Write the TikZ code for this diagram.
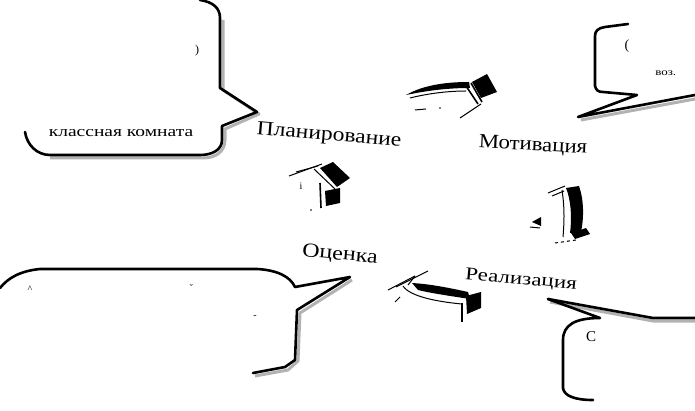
\documentclass[tikz,border=0pt]{standalone}
\usepackage{fontspec}
\setmainfont{Liberation Serif}
\begin{document}
\begin{tikzpicture}[x=1pt,y=-1pt,
  bubble/.style={line width=2.6pt,line join=round,line cap=round},
  shade/.style={line width=3pt,draw=gray!60,line join=round},
  lab/.style={font=\fontsize{20}{22}\selectfont,inner sep=0pt},
  small/.style={font=\fontsize{10}{11}\selectfont,inner sep=0pt},
  thinln/.style={line width=1pt},
  midln/.style={line width=1.6pt}]
\useasboundingbox (0,0) rectangle (695,411);
% ---------- callout 1 (top left) ----------
\draw[shade] (223,20) -- (223,90) -- (259,114) -- (225,129) -- (225,140)
  .. controls (225,152) and (215,158) .. (203,158) -- (50,158);
\draw[bubble] (200,0) .. controls (213,2) and (220,8) .. (220,18) -- (220,88)
  -- (257,112) -- (222,126) -- (222,140)
  .. controls (222,150) and (212,155) .. (200,155) -- (50,155)
  .. controls (37,155) and (27,145) .. (25,132);
\begin{scope}
  \clip (30,128.5) rectangle (215,145);
  \node[small,font=\fontsize{15}{16}\selectfont,xscale=1.3,anchor=base] (t1) at (121,137) {классная комната};
\end{scope}
\node[small,font=\fontsize{12}{13}\selectfont] (p1) at (197,51) {)};
% ---------- callout 2 (top right) ----------
\draw[shade] (581,120) -- (695,99);
\draw[bubble] (628,24) -- (605,27) .. controls (598,28) and (595,31) .. (595,36)
  -- (595,86) .. controls (596,90) and (598,92) .. (603,92) -- (637,95)
  -- (578,117) -- (695,95);
\node[small,font=\fontsize{14}{15}\selectfont] (p2) at (627,46) {(};
\node[small,xscale=1.3,anchor=west] (t2) at (655,73) {воз.};
% ---------- callout 3 (bottom left) ----------
\draw[shade] (352,280) -- (300,313) -- (298,361) -- (288,370) -- (255,376);
\draw[bubble] (0,288) .. controls (8,278) and (20,271) .. (40,269) -- (257,269)
  .. controls (276,270) and (290,276) .. (295,287) -- (350,277)
  -- (297,310) -- (295,360) -- (285,367) -- (253,373);
\node[small] (m1) at (30,289) {\^{}};
\node[small] (m2) at (190,288) {\v{}};
\node[small] (m3) at (255,317) {-};
% ---------- callout 4 (bottom right) ----------
\draw[shade] (550,302) -- (653,321) -- (695,321);
\draw[bubble] (548,299) -- (653,318) -- (695,318);
\draw[bubble] (548,299) -- (600,318) .. controls (575,318) and (563,325) .. (563,340)
  -- (563,388) .. controls (564,396) and (575,400) .. (593,400);
\node[small,font=\fontsize{15}{16}\selectfont] (t4) at (591,337) {С};
% ---------- labels ----------
\node[lab,rotate=-5,xscale=1.18] (plan) at (329,136) {Планирование};
\node[lab,rotate=-3,xscale=1.14] (motiv) at (533,146) {Мотивация};
\node[lab,rotate=-5,xscale=1.2] (ocen) at (340,255) {Оценка};
\node[lab,font=\fontsize{18}{20}\selectfont,rotate=-5,xscale=1.28] (real) at (521,280) {Реализация};
% ---------- top arrow ----------
\fill (406,95) .. controls (425,84) and (450,82) .. (469,82) -- (470,88)
  .. controls (450,88) and (430,90) .. (406,95) -- cycle;
\draw[thinln] (410,98) .. controls (430,93) and (450,91) .. (466,91);
\draw[midln] (466,86) -- (478,104);
\draw[midln] (471,83) -- (482,102);
\fill (472,82) -- (487,74) -- (497,92) -- (481,98) -- cycle;
\draw[thinln] (460,118) -- (481,104);
\draw[thinln] (415,110) -- (426,109);
\fill (440,108) circle (0.8);
% ---------- left arrow ----------
\fill (320,168) -- (333,162) -- (350,178) -- (337,187) -- cycle;
\draw[thinln] (289,176) -- (322,164);
\draw[thinln] (296,172) -- (318,166);
\draw[thinln] (314,169) -- (335,189);
\draw[midln] (320,183) -- (321,208);
\fill (325,191) -- (340,188) -- (340,203) -- (326,206) -- cycle;
\node[small] (i1) at (301,186) {i};
\fill (311,210) circle (0.8);
% ---------- right arrow ----------
\fill (566,188) -- (579,186) .. controls (584,200) and (584,218) .. (581,232)
  -- (570,233) .. controls (572,218) and (571,200) .. (566,188) -- cycle;
\draw[thinln] (548,193) -- (565,186);
\draw[thinln] (552,196) -- (564,191);
\draw[thinln] (562,190) .. controls (565,210) and (564,225) .. (563,237);
\fill (571,233) -- (586,228) -- (590,234) -- (575,239) -- cycle;
\fill (532,222) -- (541,217) -- (541,226) -- cycle;
\draw[thinln] (530,227) -- (540,228);
\draw[thinln,dashed] (555,243) -- (576,240);
% ---------- bottom arrow ----------
\fill (412,283) .. controls (430,284) and (450,288) .. (468,292) -- (470,299)
  .. controls (450,296) and (430,293) .. (418,290) -- cycle;
\draw[thinln] (403,286) .. controls (410,297) and (440,302) .. (462,304);
\draw[midln] (462,303) -- (462,322);
\fill (466,296) -- (481,292) -- (481,308) -- (467,314) -- cycle;
\draw[thinln] (388,290) -- (415,276);
\draw[thinln] (396,287) -- (428,271);
\draw[thinln] (415,276) -- (408,285);
\draw[thinln] (395,302) -- (400,297);
\end{tikzpicture}
\end{document}
